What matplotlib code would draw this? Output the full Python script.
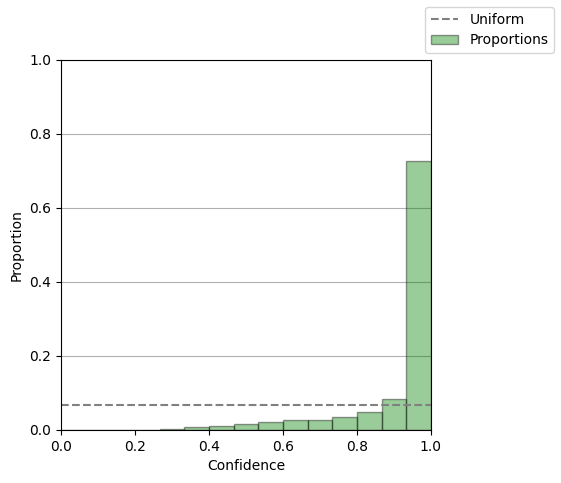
import matplotlib.pyplot as plt
import numpy as np

n_bins = 15
bin_edges = np.linspace(0, 1, n_bins + 1)
# proportion of samples in each confidence bin
proportions = [0.0, 0.0, 0.0, 0.0, 0.003, 0.007, 0.010, 0.016, 0.022,
               0.026, 0.026, 0.034, 0.048, 0.083, 0.727]
uniform = 1 / n_bins

fig = plt.figure(figsize=(5.61, 4.83), dpi=100)
ax = fig.add_axes([0.109, 0.110, 0.659, 0.766])

ax.axhline(uniform, color='gray', linestyle='--', label='Uniform')
ax.bar(bin_edges[:-1], proportions, width=1 / n_bins, align='edge',
       color='green', alpha=0.4, edgecolor='black', linewidth=1,
       label='Proportions')

ax.set_xlim(0, 1)
ax.set_ylim(0, 1)
ax.set_xlabel('Confidence')
ax.set_ylabel('Proportion')
ax.grid(axis='y')
ax.set_axisbelow(True)

fig.legend(loc='upper right')
fig.savefig('out.png')
